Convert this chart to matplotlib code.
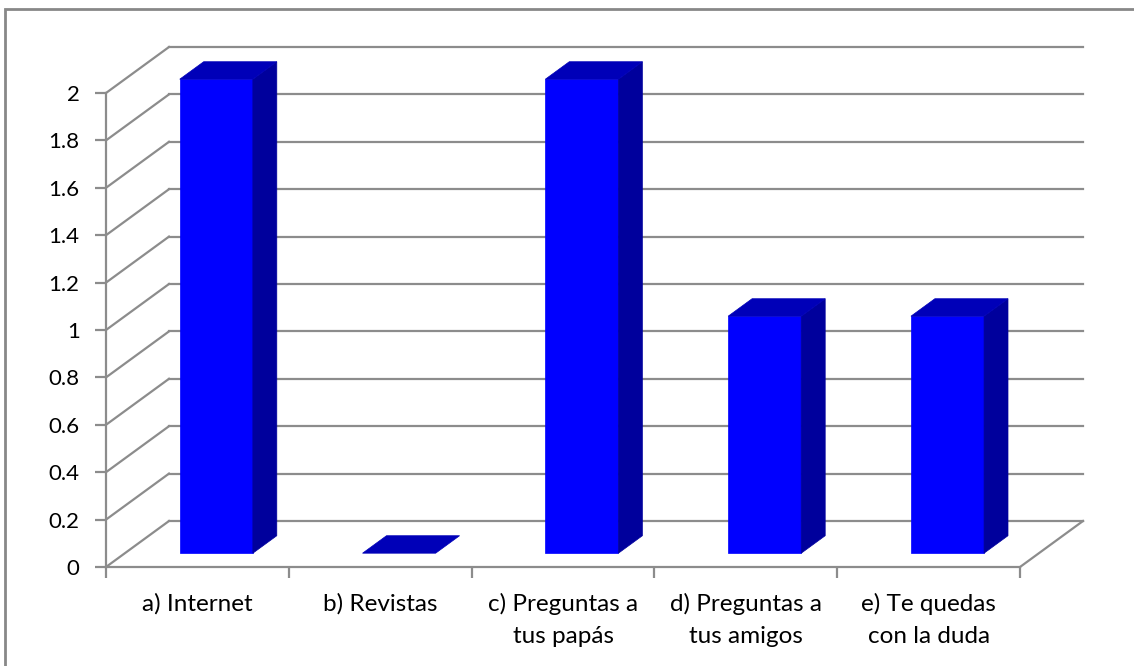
import matplotlib
matplotlib.use("Agg")
import matplotlib.pyplot as plt
from matplotlib.patches import Polygon, Rectangle
from matplotlib.lines import Line2D
from matplotlib.transforms import IdentityTransform
import numpy as np

# Chart data
categories = ["a) Internet", "b) Revistas", "c) Preguntas a\ntus papás",
              "d) Preguntas a\ntus amigos", "e) Te quedas\ncon la duda"]
values = [2, 0, 2, 1, 1]
y_ticks = [0, 0.2, 0.4, 0.6, 0.8, 1, 1.2, 1.4, 1.6, 1.8, 2]
y_tick_labels = ["0", "0.2", "0.4", "0.6", "0.8", "1", "1.2", "1.4", "1.6", "1.8", "2"]

# Styling
FRONT = "#0000FF"
SIDE = "#00009C"
TOP = "#0000B8"
GRID = "#8C8C8C"
DEPTH_DX, DEPTH_DY = 63, 46          # pixel shift from front plane to back wall
BAR_D0, BAR_D1 = 0.30, 0.68          # bar depth range (fraction of floor depth)
BAR_HALF = 0.2                       # half bar width in category units

plt.rcParams["font.family"] = ["Lato", "DejaVu Sans"]

W, H, DPI = 1134, 666, 100
fig = plt.figure(figsize=(W / DPI, H / DPI), dpi=DPI)
fig.patch.set_facecolor("white")

# Front plane of the 3D box
ax = fig.add_axes([106 / W, (H - 567) / H, 914 / W, 474 / H])
ax.set_xlim(-0.5, len(categories) - 0.5)
ax.set_ylim(0, 2)
ax.patch.set_visible(False)
for s in ["top", "right"]:
    ax.spines[s].set_visible(False)
for s in ["left", "bottom"]:
    ax.spines[s].set_color(GRID)
    ax.spines[s].set_linewidth(1.6)

ax.set_yticks(y_ticks)
ax.set_yticklabels(y_tick_labels)
ax.tick_params(axis="y", length=8, width=1.6, color=GRID, pad=11,
               labelsize=16, labelcolor="black")

ax.set_xticks(np.arange(len(categories)))
ax.set_xticklabels(categories, linespacing=1.62)
ax.set_xticks(np.arange(len(categories) + 1) - 0.5, minor=True)
ax.tick_params(axis="x", which="major", length=0, pad=19,
               labelsize=17.5, labelcolor="black")
ax.tick_params(axis="x", which="minor", length=8, width=1.6, color=GRID)

fig.canvas.draw()


def proj(x, v, d):
    """Data point (category x, value v) at depth d -> display pixels."""
    px, py = ax.transData.transform((x, v))
    return (px + DEPTH_DX * d, py + DEPTH_DY * d)


def line(p, q, **kw):
    ax.add_line(Line2D([p[0], q[0]], [p[1], q[1]], transform=IdentityTransform(),
                       color=GRID, lw=1.6, clip_on=False, zorder=1, **kw))


x0, x1 = -0.5, len(categories) - 0.5
# Back wall gridlines and side wall diagonals
for v in y_ticks:
    line(proj(x0, v, 1), proj(x1, v, 1))
    line(proj(x0, v, 0), proj(x0, v, 1))
# Floor right edge
line(proj(x1, 0, 0), proj(x1, 0, 1))


def face(pts, color, z):
    ax.add_patch(Polygon(pts, closed=True, transform=IdentityTransform(),
                         facecolor=color, edgecolor=color, lw=0.5,
                         clip_on=False, zorder=z))


# 3D bars
for i, val in enumerate(values):
    l, r = i - BAR_HALF, i + BAR_HALF
    if val > 0:
        face([proj(l, 0, BAR_D0), proj(r, 0, BAR_D0),
              proj(r, val, BAR_D0), proj(l, val, BAR_D0)], FRONT, 3)
        face([proj(r, 0, BAR_D0), proj(r, 0, BAR_D1),
              proj(r, val, BAR_D1), proj(r, val, BAR_D0)], SIDE, 3)
    face([proj(l, val, BAR_D0), proj(r, val, BAR_D0),
          proj(r, val, BAR_D1), proj(l, val, BAR_D1)], TOP, 3)

# Chart area frame
fig.add_artist(Rectangle((5 / W, -0.1), 1.2, (H - 9) / H + 0.1, transform=fig.transFigure,
                         fill=False, edgecolor="#888888", lw=2))

fig.savefig("out.png", dpi=DPI)
